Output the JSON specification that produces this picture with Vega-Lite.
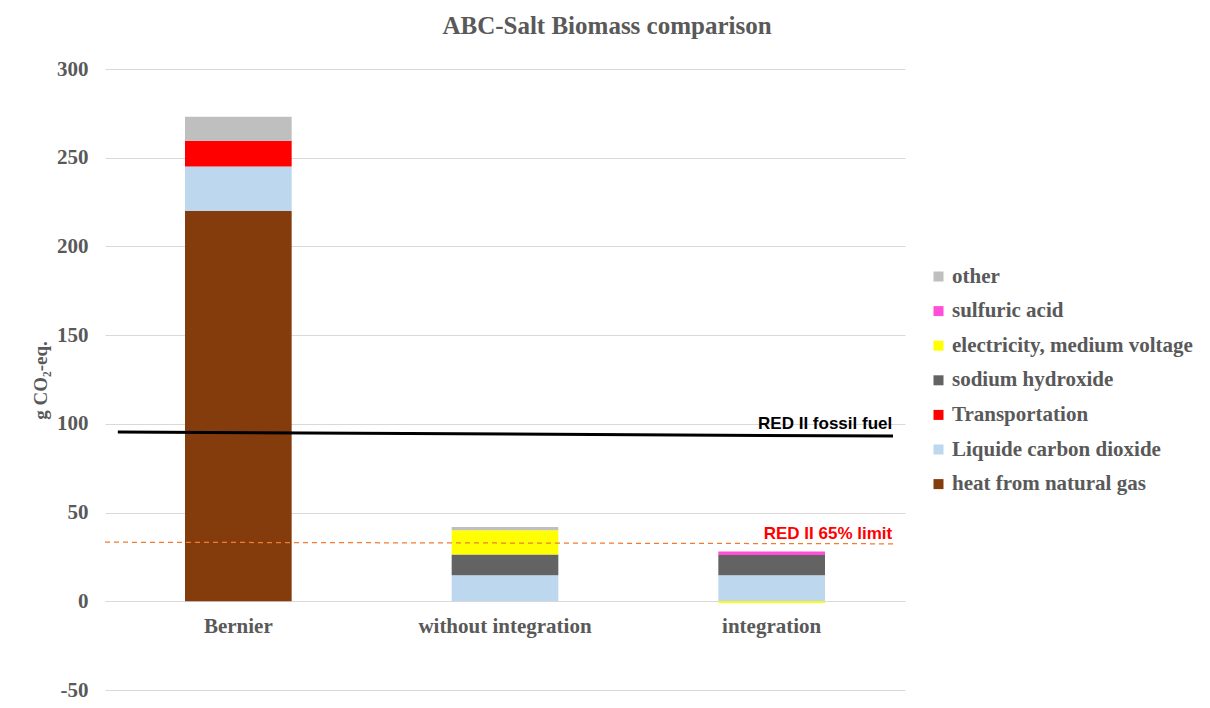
{
  "$schema": "https://vega.github.io/schema/vega-lite/v6.json",
  "autosize": {"type": "none"},
  "width": 800,
  "height": 621,
  "padding": {"left": 105, "top": 69, "right": 305, "bottom": 18},
  "background": "white",
  "title": {
    "text": "ABC-Salt Biomass comparison",
    "font": "Liberation Serif",
    "fontSize": 25,
    "fontWeight": "bold",
    "color": "#595959",
    "anchor": "middle",
    "dx": 102,
    "offset": 19
  },
  "config": {
    "view": {"stroke": null},
    "axis": {
      "labelFont": "Liberation Serif",
      "labelFontSize": 21,
      "labelFontWeight": "bold",
      "labelColor": "#595959",
      "titleFont": "Liberation Serif",
      "titleFontSize": 19,
      "titleFontWeight": "bold",
      "titleColor": "#595959",
      "gridColor": "#d9d9d9",
      "domainColor": "#d9d9d9",
      "ticks": false
    },
    "legend": {
      "labelFont": "Liberation Serif",
      "labelFontSize": 21,
      "labelFontWeight": "bold",
      "labelColor": "#595959",
      "labelLimit": 0
    }
  },
  "datasets": {
    "bars": [
      {"case": "Bernier", "source": "heat from natural gas", "ord": 1, "value": 220},
      {"case": "Bernier", "source": "Liquide carbon dioxide", "ord": 2, "value": 25},
      {"case": "Bernier", "source": "Transportation", "ord": 3, "value": 14.6},
      {"case": "Bernier", "source": "other", "ord": 7, "value": 13.5},
      {"case": "without integration", "source": "Liquide carbon dioxide", "ord": 2, "value": 14.7},
      {"case": "without integration", "source": "sodium hydroxide", "ord": 4, "value": 11.6},
      {"case": "without integration", "source": "electricity, medium voltage", "ord": 5, "value": 13.8},
      {"case": "without integration", "source": "other", "ord": 7, "value": 1.8},
      {"case": "integration", "source": "Liquide carbon dioxide", "ord": 2, "value": 14.7},
      {"case": "integration", "source": "sodium hydroxide", "ord": 4, "value": 11.4},
      {"case": "integration", "source": "electricity, medium voltage", "ord": 5, "value": -1},
      {"case": "integration", "source": "sulfuric acid", "ord": 6, "value": 1.9}
    ],
    "fossil": [
      {"pos": 0.016, "g": 95.4},
      {"pos": 0.985, "g": 93.1}
    ],
    "limit": [
      {"pos": 0.0, "g": 33.3},
      {"pos": 0.985, "g": 32.4}
    ],
    "labels": [
      {"pos": 0.984, "g": 97.1, "label": "RED II fossil fuel", "kind": "fossil"},
      {"pos": 0.984, "g": 35.2, "label": "RED II 65% limit", "kind": "limit"}
    ]
  },
  "layer": [
    {
      "data": {"name": "bars"},
      "mark": {"type": "bar"},
      "encoding": {
        "x": {
          "field": "case",
          "type": "nominal",
          "sort": ["Bernier", "without integration", "integration"],
          "scale": {"paddingInner": 0.6, "paddingOuter": 0.3},
          "axis": {"title": null, "labelAngle": 0, "offset": -89, "labelPadding": 14, "domain": true, "grid": false}
        },
        "y": {
          "field": "value",
          "type": "quantitative",
          "stack": "zero",
          "scale": {"domain": [-50, 300], "nice": false, "zero": false},
          "axis": {
            "title": "g CO₂-eq.",
            "values": [-50, 0, 50, 100, 150, 200, 250, 300],
            "labelExpr": "datum.value + ''",
            "labelPadding": 17,
            "domain": false,
            "titleX": -65,
            "titleY": 311,
            "titleAngle": -90,
            "titleAlign": "center",
            "titleBaseline": "middle"
          }
        },
        "color": {
          "field": "source",
          "type": "nominal",
          "scale": {
            "domain": ["other", "sulfuric acid", "electricity, medium voltage", "sodium hydroxide", "Transportation", "Liquide carbon dioxide", "heat from natural gas"],
            "range": ["#bfbfbf", "#ff4fd8", "#ffff00", "#636363", "#ff0000", "#bdd7ee", "#843c0c"]
          },
          "legend": {
            "title": null,
            "orient": "none",
            "legendX": 823,
            "legendY": 197,
            "symbolType": "square",
            "symbolSize": 100,
            "symbolStrokeWidth": 0,
            "rowPadding": 12.6,
            "labelOffset": 3
          }
        },
        "order": {"field": "ord", "type": "quantitative"}
      }
    },
    {
      "data": {"name": "limit"},
      "mark": {"type": "line", "color": "#ed7d31", "strokeWidth": 1.25, "strokeDash": [5, 4]},
      "encoding": {
        "x": {"field": "pos", "type": "quantitative", "scale": {"domain": [0, 1], "nice": false}, "axis": null},
        "y": {"field": "g", "type": "quantitative"}
      }
    },
    {
      "data": {"name": "fossil"},
      "mark": {"type": "line", "color": "#000000", "strokeWidth": 3},
      "encoding": {
        "x": {"field": "pos", "type": "quantitative", "scale": {"domain": [0, 1], "nice": false}, "axis": null},
        "y": {"field": "g", "type": "quantitative"}
      }
    },
    {
      "data": {"name": "labels"},
      "mark": {"type": "text", "align": "right", "baseline": "alphabetic", "font": "Liberation Sans", "fontSize": 17, "fontWeight": "bold"},
      "encoding": {
        "x": {"field": "pos", "type": "quantitative", "scale": {"domain": [0, 1], "nice": false}, "axis": null},
        "y": {"field": "g", "type": "quantitative"},
        "text": {"field": "label"},
        "color": {
          "field": "kind",
          "type": "nominal",
          "scale": {"domain": ["fossil", "limit"], "range": ["#000000", "#ff0000"]},
          "legend": null
        }
      }
    }
  ],
  "resolve": {"scale": {"x": "independent", "color": "independent"}}
}
